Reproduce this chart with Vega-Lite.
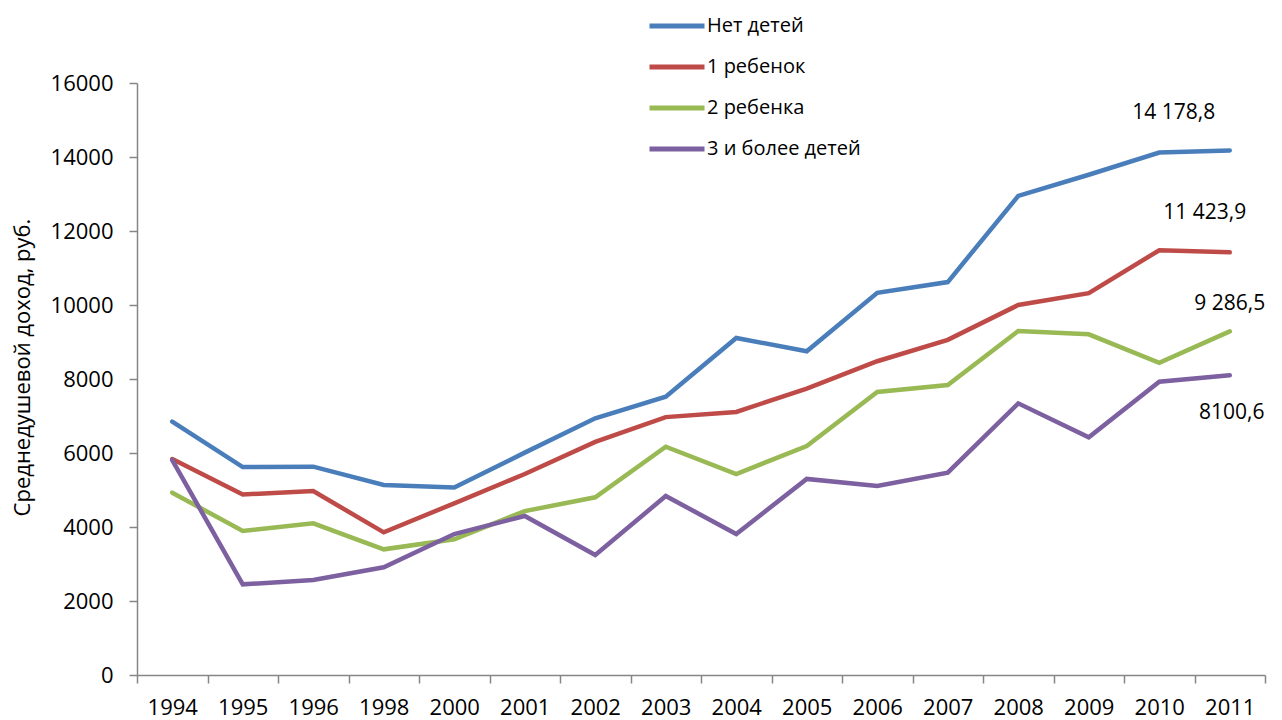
{
  "$schema": "https://vega.github.io/schema/vega-lite/v6.json",
  "width": 1128,
  "height": 592,
  "autosize": {"type": "none"},
  "padding": {"left": 137, "top": 83, "right": 17, "bottom": 45},
  "background": "white",
  "config": {
    "font": "Open Sans",
    "view": {"stroke": null},
    "axis": {"labelFont": "Open Sans", "titleFont": "Open Sans", "labelColor": "#000000", "titleColor": "#000000"}
  },
  "data": {
    "values": [
      {"year": "1994", "series": "Нет детей", "value": 6850},
      {"year": "1995", "series": "Нет детей", "value": 5620},
      {"year": "1996", "series": "Нет детей", "value": 5630},
      {"year": "1998", "series": "Нет детей", "value": 5135},
      {"year": "2000", "series": "Нет детей", "value": 5070},
      {"year": "2001", "series": "Нет детей", "value": 6010},
      {"year": "2002", "series": "Нет детей", "value": 6937},
      {"year": "2003", "series": "Нет детей", "value": 7522},
      {"year": "2004", "series": "Нет детей", "value": 9110},
      {"year": "2005", "series": "Нет детей", "value": 8750},
      {"year": "2006", "series": "Нет детей", "value": 10330},
      {"year": "2007", "series": "Нет детей", "value": 10620},
      {"year": "2008", "series": "Нет детей", "value": 12950},
      {"year": "2009", "series": "Нет детей", "value": 13520},
      {"year": "2010", "series": "Нет детей", "value": 14120},
      {"year": "2011", "series": "Нет детей", "value": 14178.8},
      {"year": "1994", "series": "1 ребенок", "value": 5838},
      {"year": "1995", "series": "1 ребенок", "value": 4880},
      {"year": "1996", "series": "1 ребенок", "value": 4970},
      {"year": "1998", "series": "1 ребенок", "value": 3856},
      {"year": "2000", "series": "1 ребенок", "value": 4640},
      {"year": "2001", "series": "1 ребенок", "value": 5432},
      {"year": "2002", "series": "1 ребенок", "value": 6300},
      {"year": "2003", "series": "1 ребенок", "value": 6970},
      {"year": "2004", "series": "1 ребенок", "value": 7110},
      {"year": "2005", "series": "1 ребенок", "value": 7740},
      {"year": "2006", "series": "1 ребенок", "value": 8480},
      {"year": "2007", "series": "1 ребенок", "value": 9060},
      {"year": "2008", "series": "1 ребенок", "value": 10000},
      {"year": "2009", "series": "1 ребенок", "value": 10320},
      {"year": "2010", "series": "1 ребенок", "value": 11480},
      {"year": "2011", "series": "1 ребенок", "value": 11423.9},
      {"year": "1994", "series": "2 ребенка", "value": 4928},
      {"year": "1995", "series": "2 ребенка", "value": 3892},
      {"year": "1996", "series": "2 ребенка", "value": 4099},
      {"year": "1998", "series": "2 ребенка", "value": 3396},
      {"year": "2000", "series": "2 ребенка", "value": 3667},
      {"year": "2001", "series": "2 ребенка", "value": 4430},
      {"year": "2002", "series": "2 ребенка", "value": 4802},
      {"year": "2003", "series": "2 ребенка", "value": 6171},
      {"year": "2004", "series": "2 ребенка", "value": 5432},
      {"year": "2005", "series": "2 ребенка", "value": 6189},
      {"year": "2006", "series": "2 ребенка", "value": 7650},
      {"year": "2007", "series": "2 ребенка", "value": 7838},
      {"year": "2008", "series": "2 ребенка", "value": 9297},
      {"year": "2009", "series": "2 ребенка", "value": 9208},
      {"year": "2010", "series": "2 ребенка", "value": 8440},
      {"year": "2011", "series": "2 ребенка", "value": 9286.5},
      {"year": "1994", "series": "3 и более детей", "value": 5810},
      {"year": "1995", "series": "3 и более детей", "value": 2450},
      {"year": "1996", "series": "3 и более детей", "value": 2567},
      {"year": "1998", "series": "3 и более детей", "value": 2910},
      {"year": "2000", "series": "3 и более детей", "value": 3810},
      {"year": "2001", "series": "3 и более детей", "value": 4297},
      {"year": "2002", "series": "3 и более детей", "value": 3243},
      {"year": "2003", "series": "3 и более детей", "value": 4838},
      {"year": "2004", "series": "3 и более детей", "value": 3811},
      {"year": "2005", "series": "3 и более детей", "value": 5300},
      {"year": "2006", "series": "3 и более детей", "value": 5108},
      {"year": "2007", "series": "3 и более детей", "value": 5468},
      {"year": "2008", "series": "3 и более детей", "value": 7342},
      {"year": "2009", "series": "3 и более детей", "value": 6423},
      {"year": "2010", "series": "3 и более детей", "value": 7927},
      {"year": "2011", "series": "3 и более детей", "value": 8100.6}
    ]
  },
  "encoding": {
    "x": {
      "field": "year", "type": "ordinal", "sort": null,
      "scale": {"type": "band", "paddingInner": 0, "paddingOuter": 0},
      "axis": {
        "title": null, "labelAngle": 0, "labelFontSize": 22, "labelPadding": 14,
        "tickBand": "extent", "tickSize": 8, "tickColor": "#868686",
        "domainColor": "#868686", "domainWidth": 1.5, "tickWidth": 1.5, "grid": false
      }
    },
    "y": {
      "field": "value", "type": "quantitative",
      "scale": {"domain": [0, 16000], "nice": false},
      "axis": {
        "title": "Среднедушевой доход, руб.", "titleFontSize": 22, "titleFontWeight": "normal",
        "titlePadding": 16, "titleY": 284,
        "values": [0, 2000, 4000, 6000, 8000, 10000, 12000, 14000, 16000],
        "format": "d", "labelFontSize": 22, "labelPadding": 16, "tickSize": 8,
        "tickColor": "#868686", "domainColor": "#868686", "domainWidth": 1.5, "tickWidth": 1.5,
        "grid": false
      }
    }
  },
  "layer": [
    {
      "mark": {"type": "line", "strokeWidth": 4.5, "strokeJoin": "miter", "strokeCap": "round"},
      "encoding": {
        "color": {
          "field": "series", "type": "nominal",
          "scale": {
            "domain": ["Нет детей", "1 ребенок", "2 ребенка", "3 и более детей"],
            "range": ["#4A7EBB", "#BE4B48", "#98B954", "#7D60A0"]
          },
          "legend": {
            "title": null, "orient": "none", "legendX": 510, "legendY": -67,
            "symbolType": "stroke", "symbolSize": 3025, "symbolStrokeWidth": 5,
            "labelFontSize": 20, "labelFont": "Open Sans", "labelColor": "#000000",
            "labelOffset": 0, "clipHeight": 20, "rowPadding": 21
          }
        }
      }
    },
    {
      "transform": [{"filter": "datum.year == '2011' && datum.series == 'Нет детей'"}],
      "mark": {"type": "text", "fontSize": 21, "dx": -56, "dy": -37, "align": "center", "baseline": "middle"},
      "encoding": {"text": {"value": "14 178,8"}}
    },
    {
      "transform": [{"filter": "datum.year == '2011' && datum.series == '1 ребенок'"}],
      "mark": {"type": "text", "fontSize": 21, "dx": -25, "dy": -39, "align": "center", "baseline": "middle"},
      "encoding": {"text": {"value": "11 423,9"}}
    },
    {
      "transform": [{"filter": "datum.year == '2011' && datum.series == '2 ребенка'"}],
      "mark": {"type": "text", "fontSize": 21, "dx": 0, "dy": -27, "align": "center", "baseline": "middle"},
      "encoding": {"text": {"value": "9 286,5"}}
    },
    {
      "transform": [{"filter": "datum.year == '2011' && datum.series == '3 и более детей'"}],
      "mark": {"type": "text", "fontSize": 21, "dx": 2, "dy": 38, "align": "center", "baseline": "middle"},
      "encoding": {"text": {"value": "8100,6"}}
    }
  ]
}
